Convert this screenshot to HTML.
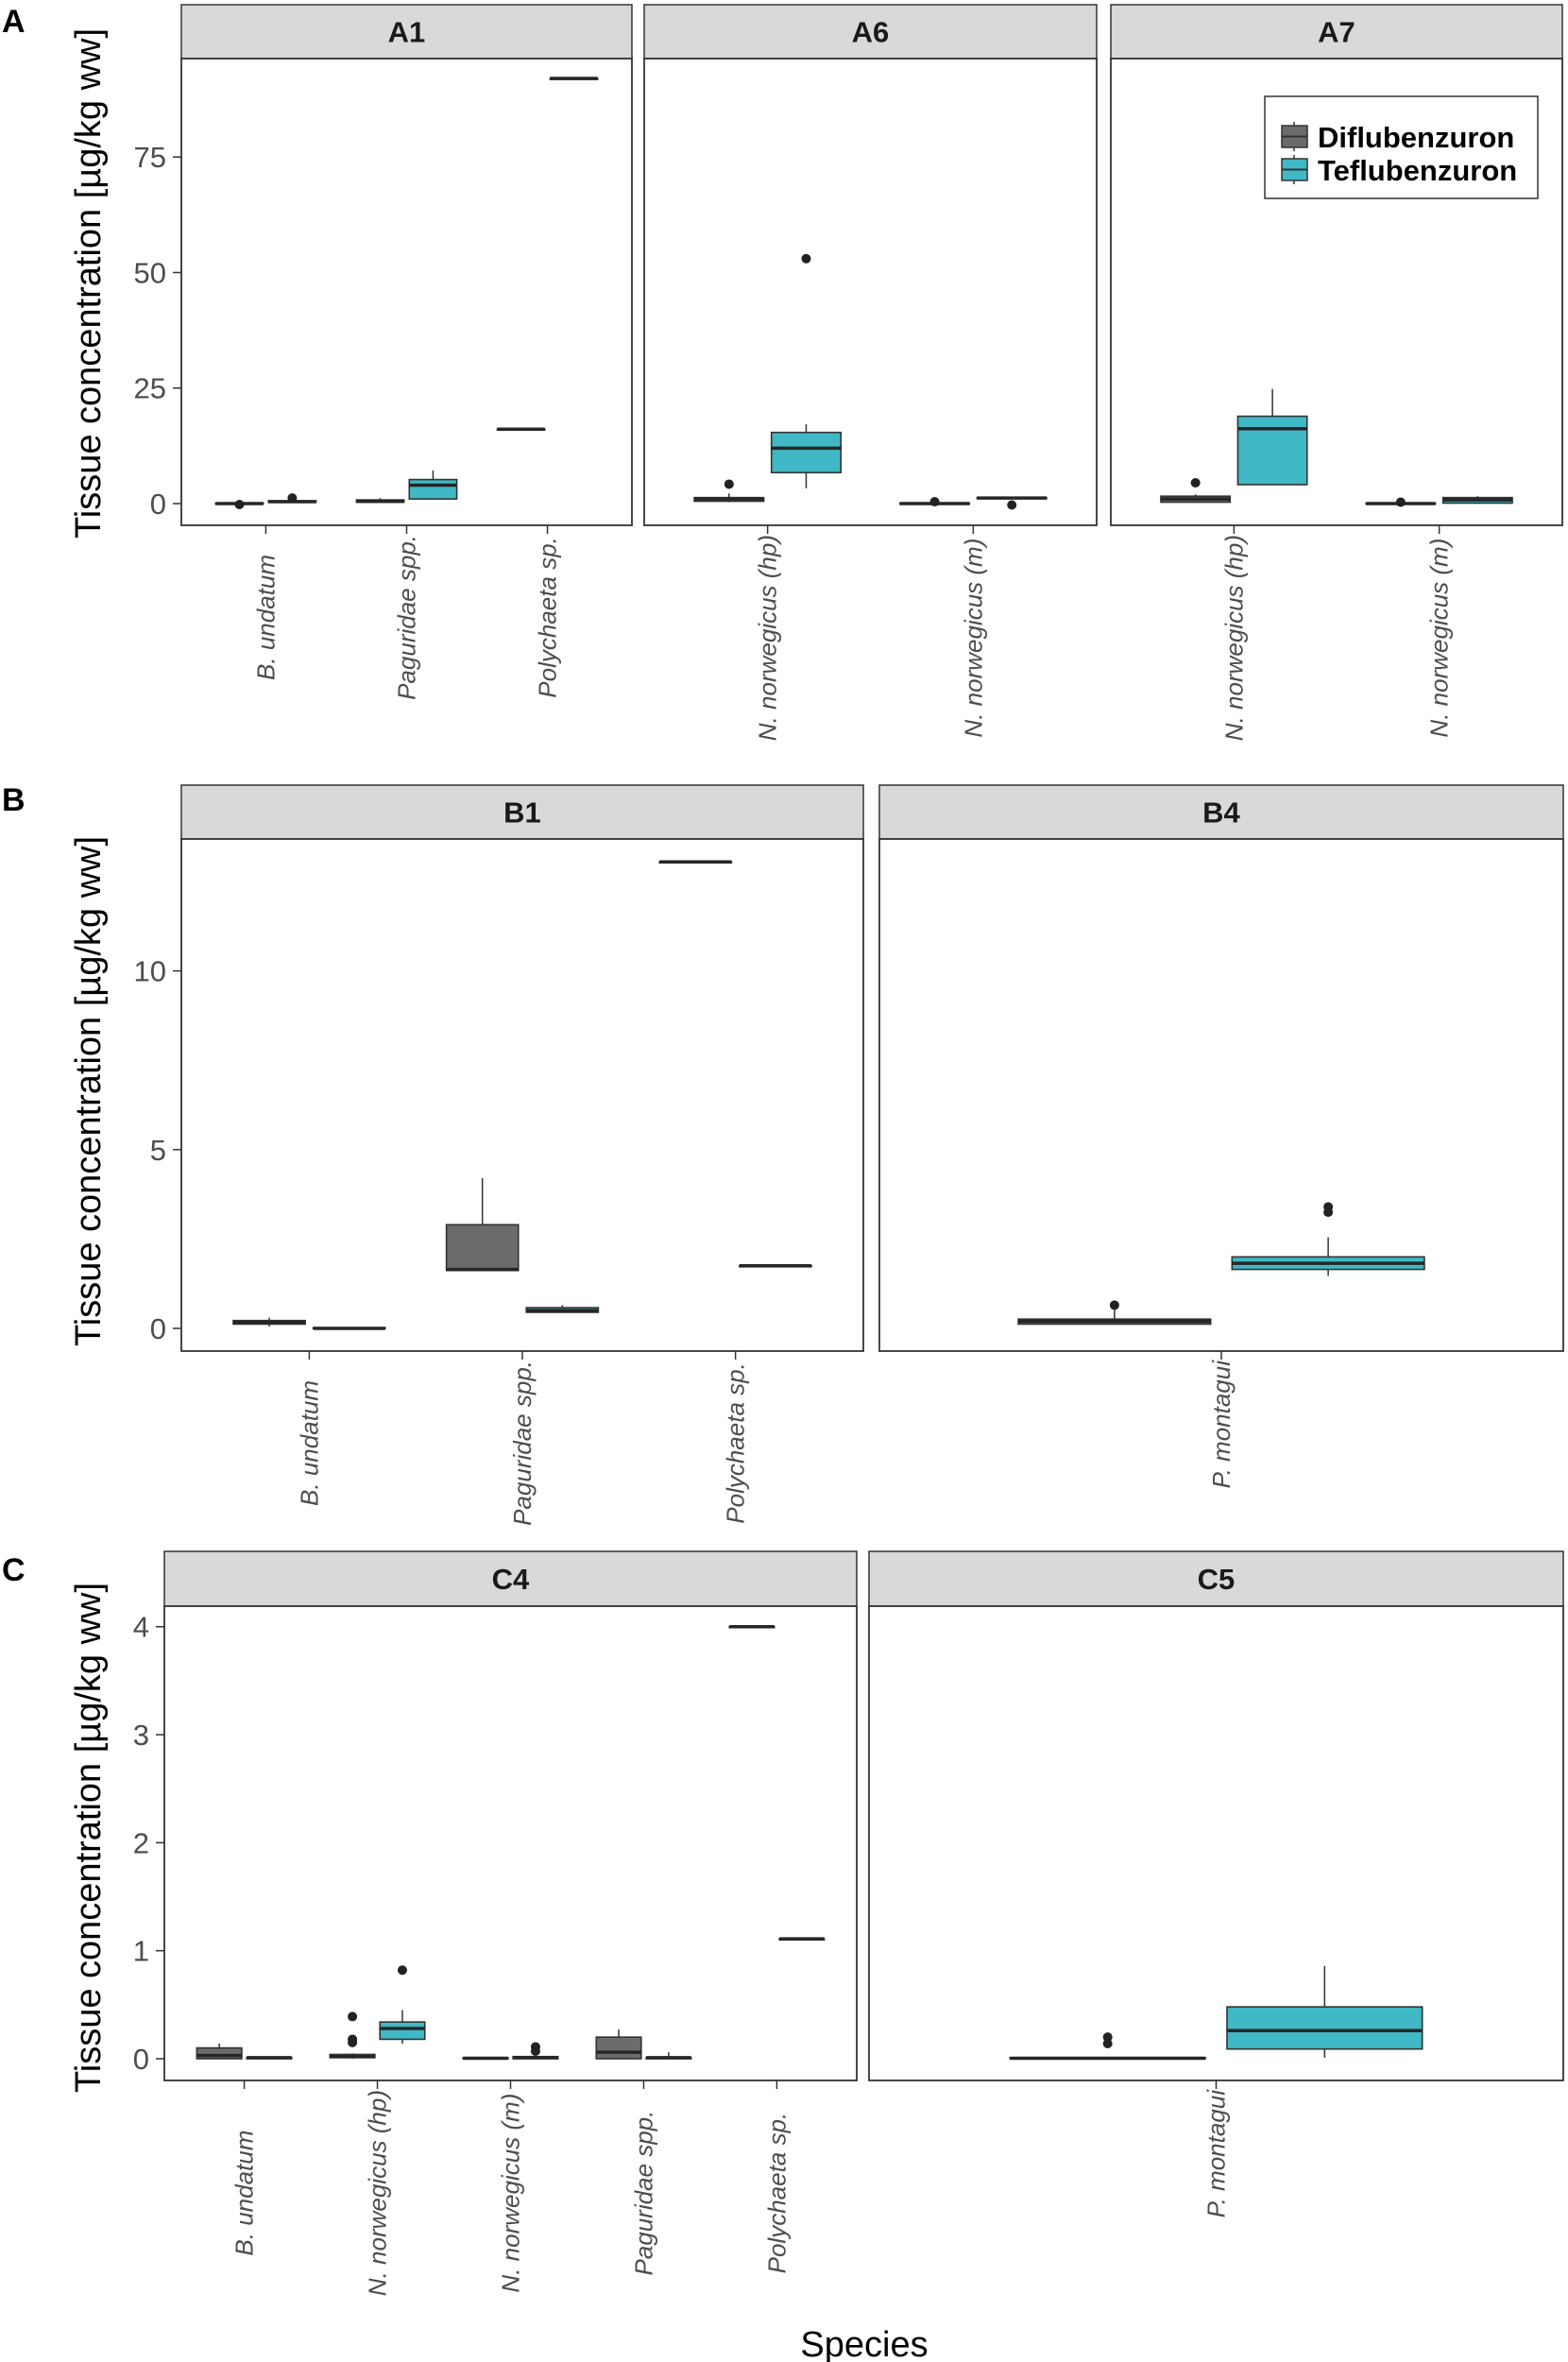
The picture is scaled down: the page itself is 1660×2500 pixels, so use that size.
<!DOCTYPE html>
<html><head><meta charset="utf-8"><title>Tissue concentration boxplots</title>
<style>
html,body{margin:0;padding:0;background:#fff;}
svg{display:block;font-family:"Liberation Sans",Arial,sans-serif;}
</style></head>
<body>
<svg id="chart" xmlns="http://www.w3.org/2000/svg" width="1660" height="2500" viewBox="0 0 1660 2500">
<rect x="0" y="0" width="1660" height="2500" fill="#ffffff"/>
</svg>
<script>
// ---------- DATA ----------
const seriesNames = ["Diflubenzuron", "Teflubenzuron"];
const rowAYTicks = [0, 25, 50, 75];
const rowBYTicks = [0, 5, 10];
const rowCYTicks = [0, 1, 2, 3, 4];
const rowAYDomain = [-4.7, 96.3];
const rowBYDomain = [-0.634, 13.69];
const rowCYDomain = [-0.201, 4.19];

const a1Categories = ["B. undatum", "Paguridae spp.", "Polychaeta sp."];
const a1Dif = [[0,0,0,0.1,0.2],[0.2,0.3,0.5,0.8,1.2],[16.1,16.1,16.1,16.1,16.1]];
const a1DifOut = [[-0.2],[],[]];
const a1Tef = [[0.2,0.3,0.4,0.6,0.8],[0.8,1.0,4.0,5.2,7.2],[92,92,92,92,92]];
const a1TefOut = [[1.2],[],[]];

const a6Categories = ["N. norwegicus (hp)", "N. norwegicus (m)"];
const a6Dif = [[0.3,0.5,1.0,1.3,2.2],[0,0,0,0.1,0.1]];
const a6DifOut = [[4.2],[0.4]];
const a6Tef = [[3.3,6.7,12,15.4,17.2],[1.0,1.1,1.2,1.3,1.4]];
const a6TefOut = [[53],[-0.3]];

const a7Categories = ["N. norwegicus (hp)", "N. norwegicus (m)"];
const a7Dif = [[0.2,0.3,1.0,1.6,2.0],[0,0,0,0.1,0.1]];
const a7DifOut = [[4.5],[0.3]];
const a7Tef = [[4.0,4.1,16.2,18.9,24.8],[0,0.1,0.8,1.3,1.6]];
const a7TefOut = [[],[]];

const b1Categories = ["B. undatum", "Paguridae spp.", "Polychaeta sp."];
const b1Dif = [[0.05,0.12,0.17,0.22,0.3],[1.6,1.62,1.65,2.9,4.2],[13.05,13.05,13.05,13.05,13.05]];
const b1DifOut = [[],[],[]];
const b1Tef = [[0,0,0,0.02,0.02],[0.45,0.45,0.5,0.58,0.65],[1.75,1.75,1.75,1.75,1.75]];
const b1TefOut = [[],[],[]];

const b4Categories = ["P. montagui"];
const b4Dif = [[0.1,0.12,0.2,0.26,0.55]];
const b4DifOut = [[0.65]];
const b4Tef = [[1.47,1.65,1.82,2.0,2.55]];
const b4TefOut = [[3.25,3.4]];

const c4Categories = ["B. undatum", "N. norwegicus (hp)", "N. norwegicus (m)", "Paguridae spp.", "Polychaeta sp."];
const c4Dif = [[0,0,0.03,0.1,0.14],[0,0.01,0.02,0.04,0.05],[0,0,0.005,0.01,0.01],[0,0,0.06,0.2,0.27],[4,4,4,4,4]];
const c4DifOut = [[],[0.39,0.18,0.15],[],[],[]];
const c4Tef = [[0,0,0.01,0.01,0.01],[0.14,0.18,0.28,0.34,0.45],[0,0,0.01,0.02,0.02],[0,0,0.01,0.01,0.06],[1.11,1.11,1.11,1.11,1.11]];
const c4TefOut = [[],[0.82],[0.11,0.07],[],[]];

const c5Categories = ["P. montagui"];
const c5Dif = [[0,0,0.005,0.01,0.01]];
const c5DifOut = [[0.14,0.2]];
const c5Tef = [[0.01,0.09,0.26,0.48,0.86]];
const c5TefOut = [[]];

// ---------- LAYOUT ----------
const NS = "http://www.w3.org/2000/svg";
const svg = document.getElementById("chart");
const COLORS = ["#6b6b6b", "#40b8c5"];
function mk(tag, attrs, parent) {
  const e = document.createElementNS(NS, tag);
  for (const k in attrs) e.setAttribute(k, attrs[k]);
  (parent || svg).appendChild(e);
  return e;
}
const rows = [
  {letter:"A", letterY:34, stripTop:5, top:62, bottom:556, domain:rowAYDomain, ticks:rowAYTicks, titleCY:300,
   panels:[
    {name:"A1", left:192, right:669, cats:a1Categories, s:[a1Dif,a1Tef], o:[a1DifOut,a1TefOut], axis:true},
    {name:"A6", left:682, right:1161, cats:a6Categories, s:[a6Dif,a6Tef], o:[a6DifOut,a6TefOut]},
    {name:"A7", left:1176, right:1654, cats:a7Categories, s:[a7Dif,a7Tef], o:[a7DifOut,a7TefOut]}]},
  {letter:"B", letterY:858, stripTop:831, top:888, bottom:1430, domain:rowBYDomain, ticks:rowBYTicks, titleCY:1155,
   panels:[
    {name:"B1", left:192, right:914, cats:b1Categories, s:[b1Dif,b1Tef], o:[b1DifOut,b1TefOut], axis:true},
    {name:"B4", left:931, right:1655, cats:b4Categories, s:[b4Dif,b4Tef], o:[b4DifOut,b4TefOut]}]},
  {letter:"C", letterY:1673, stripTop:1642, top:1700, bottom:2202, domain:rowCYDomain, ticks:rowCYTicks, titleCY:1945,
   panels:[
    {name:"C4", left:174, right:907, cats:c4Categories, s:[c4Dif,c4Tef], o:[c4DifOut,c4TefOut], axis:true},
    {name:"C5", left:920, right:1655, cats:c5Categories, s:[c5Dif,c5Tef], o:[c5DifOut,c5TefOut]}]}
];

rows.forEach(row => {
  const yScale = v => row.bottom - (v - row.domain[0]) / (row.domain[1] - row.domain[0]) * (row.bottom - row.top);
  const lt = mk("text", {x:2, y:row.letterY, "font-size":34, "font-weight":"bold", fill:"#000"});
  
  
  lt.textContent = row.letter;
  const yt = mk("text", {x:0, y:0, "font-size":38, fill:"#000", "text-anchor":"middle",
    transform:"translate(106," + row.titleCY + ") rotate(-90)"});
  
  
  yt.textContent = "Tissue concentration [\u00b5g/kg ww]";

  row.panels.forEach(p => {
    const g = mk("g", {});
    
    
    const n = p.cats.length;
    const unit = (p.right - p.left) / (n + 0.2);
    const xScale = i => p.left + (0.6 + i) * unit;
    const st = mk("rect", {x:p.left, y:row.stripTop, width:p.right-p.left, height:row.top-row.stripTop, fill:"#d9d9d9", stroke:"#333", "stroke-width":1.5}, g);
    
    
    const stt = mk("text", {x:(p.left+p.right)/2, y:(row.stripTop+row.top)/2+11, "font-size":31, "font-weight":"bold", fill:"#1a1a1a", "text-anchor":"middle"}, g);
    
    
    stt.textContent = p.name;
    const pb = mk("rect", {x:p.left, y:row.top, width:p.right-p.left, height:row.bottom-row.top, fill:"#fff", stroke:"#333", "stroke-width":1.8}, g);
    
    
    if (p.axis) {
      row.ticks.forEach(t => {
        const y = yScale(t);
        const tm = mk("line", {x1:p.left-9, x2:p.left, y1:y, y2:y, stroke:"#333", "stroke-width":1.5}, g);
        
        
        const tl = mk("text", {x:p.left-16, y:y+11, "font-size":31, fill:"#4d4d4d", "text-anchor":"end"}, g);
        
        
        tl.textContent = t;
      });
    }
    const labels = [];
    let maxLen = 0;
    p.cats.forEach((c, i) => {
      const x = xScale(i);
      const tm = mk("line", {x1:x, x2:x, y1:row.bottom, y2:row.bottom+9, stroke:"#333", "stroke-width":1.5}, g);
      
      
      const tl = mk("text", {x:0, y:0, "font-size":26, "font-style":"italic", fill:"#4d4d4d", "text-anchor":"middle"}, g);
      
      
      tl.textContent = c;
      let len = 0;
      try { len = tl.getComputedTextLength(); } catch (e) { len = c.length * 12; }
      if (!len) len = c.length * 12;
      maxLen = Math.max(maxLen, len);
      labels.push([tl, x]);
    });
    const cy = row.bottom + 10 + maxLen / 2;
    labels.forEach(([tl, x]) => {
      tl.setAttribute("transform", "translate(" + (x+9) + "," + cy + ") rotate(-90)");
    });
    const bw = 0.3375 * unit;
    p.s.forEach((series, si) => {
      series.forEach((st5, i) => {
        const cx = xScale(i) + (si === 0 ? -0.1875 : 0.1875) * unit;
        const [lo, q1, med, q3, hi] = st5;
        const bg = mk("g", {}, g);
        
        
        const w1 = mk("line", {x1:cx, x2:cx, y1:yScale(hi), y2:yScale(q3), stroke:"#333", "stroke-width":1.5}, bg);
        
        
        const w2 = mk("line", {x1:cx, x2:cx, y1:yScale(q1), y2:yScale(lo), stroke:"#333", "stroke-width":1.5}, bg);
        
        
        const yt3 = yScale(q3), yb1 = yScale(q1);
        const h = Math.max(yb1 - yt3, 1);
        const r = mk("rect", {x:cx-bw/2, y:yt3, width:bw, height:h, fill:COLORS[si], stroke:"#333", "stroke-width":1.6}, bg);
        
        
        const m = mk("line", {x1:cx-bw/2, x2:cx+bw/2, y1:yScale(med), y2:yScale(med), stroke:"#262626", "stroke-width":3.5}, bg);
        
        
        p.o[si][i].forEach(ov => {
          const d = mk("circle", {cx:cx, cy:yScale(ov), r:5, fill:"#222"}, bg);
          
          
        });
      });
    });
  });
});

const xt = mk("text", {x:915, y:2494, "font-size":38, fill:"#000", "text-anchor":"middle"});


xt.textContent = "Species";

const lg = mk("g", {});


const lbox = mk("rect", {x:1339, y:102, width:289, height:108, fill:"#fff", stroke:"#333", "stroke-width":1.5}, lg);


const keyY = [133, 168];
const textY = [156, 191];
seriesNames.forEach((s, i) => {
  const eg = mk("g", {}, lg);
  
  
  mk("line", {x1:1370, x2:1370, y1:keyY[i]-4, y2:keyY[i]+27, stroke:"#333", "stroke-width":1.5}, eg);
  const kr = mk("rect", {x:1357, y:keyY[i], width:27, height:23, fill:COLORS[i], stroke:"#333", "stroke-width":1.5}, eg);
  
  
  mk("line", {x1:1357, x2:1384, y1:keyY[i]+11.5, y2:keyY[i]+11.5, stroke:"#333", "stroke-width":2}, eg);
  const tx = mk("text", {x:1395, y:textY[i], "font-size":31, "font-weight":"bold", fill:"#000"}, eg);
  
  
  tx.textContent = s;
});
</script>
</body></html>
